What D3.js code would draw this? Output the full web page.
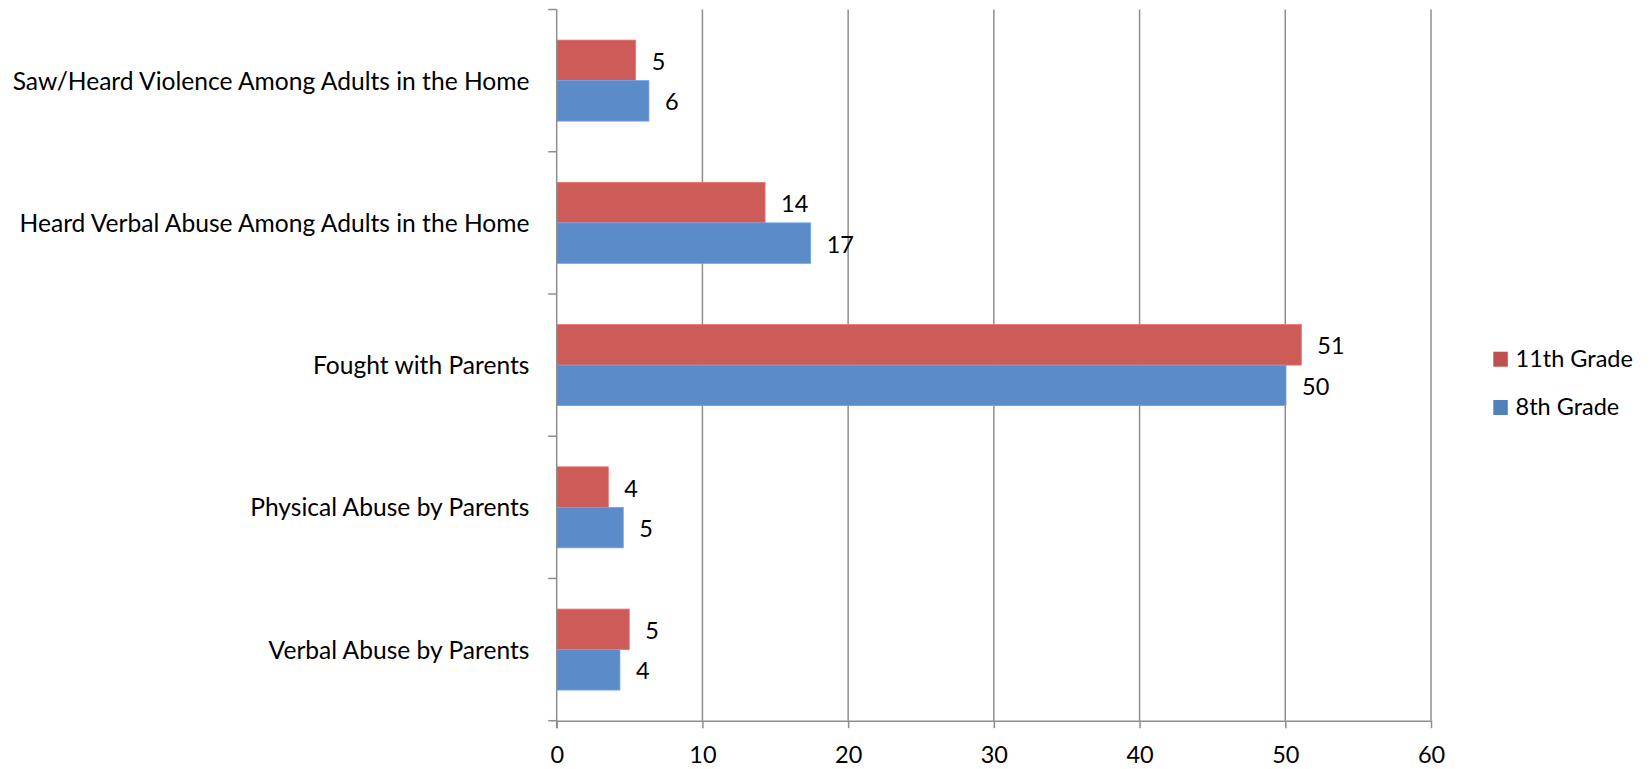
<!DOCTYPE html>
<html>
<head>
<meta charset="utf-8">
<script src="https://cdn.jsdelivr.net/npm/d3@7"></script>
<style>
  html, body { margin: 0; padding: 0; background: #ffffff; }
  svg { display: block; }
  text { font-family: Lato, "Open Sans", sans-serif; fill: #000; }
</style>
</head>
<body>
<svg id="chart" width="1650" height="769"></svg>
<script>
const categories = [
  "Saw/Heard Violence Among Adults in the Home",
  "Heard Verbal Abuse Among Adults in the Home",
  "Fought with Parents",
  "Physical Abuse by Parents",
  "Verbal Abuse by Parents"
];
const seriesNames = ["11th Grade", "8th Grade"];
const grade11 = [5.42, 14.30, 51.1, 3.54, 4.98];
const grade8 = [6.33, 17.43, 50.05, 4.57, 4.34];
const xTicks = [0, 10, 20, 30, 40, 50, 60];

(function () {
const colors = { "11th Grade": "#CD5B57", "8th Grade": "#5B8BC8" };
const legendColors = { "11th Grade": "#C0504D", "8th Grade": "#4F81BD" };
const seriesValues = { "11th Grade": grade11, "8th Grade": grade8 };

const svg = d3.select("#chart");
const plotLeft = 556.7, plotRight = 1431, plotTop = 9.5, plotBottom = 720.7;
const fontSize = 23.5;
const catFontSize = 24.6;
const gridColor = "#8E8E8E";

const x = d3.scaleLinear().domain([0, 60]).range([plotLeft, plotRight]);
const y0 = d3.scaleBand().domain(categories).range([plotTop, plotBottom]).padding(0);
const y1 = d3.scaleBand().domain(seriesNames).range([0, y0.bandwidth()]).paddingInner(0).paddingOuter(0.756);

// gridlines
svg.append("g").selectAll("line").data(xTicks.filter(d => d > 0)).join("line")
  .attr("x1", d => x(d)).attr("x2", d => x(d))
  .attr("y1", plotTop).attr("y2", plotBottom)
  .attr("stroke", gridColor).attr("stroke-width", 1.5);

// bars
const catG = svg.append("g").selectAll("g").data(categories).join("g")
  .attr("transform", d => `translate(0,${y0(d)})`);

catG.selectAll("rect").data((c, i) => seriesNames.map(s => ({ s, v: seriesValues[s][i] })))
  .join("rect")
  .attr("x", x(0))
  .attr("y", d => y1(d.s))
  .attr("width", d => x(d.v) - x(0))
  .attr("height", y1.bandwidth())
  .attr("fill", d => colors[d.s])
  .attr("stroke", d => d3.color(colors[d.s]).brighter(0.5))
  .attr("stroke-width", 0.8);

catG.selectAll("text.val").data((c, i) => seriesNames.map(s => ({ s, v: seriesValues[s][i] })))
  .join("text").attr("class", "val")
  .attr("x", d => x(d.v) + 16)
  .attr("y", d => y1(d.s) + y1.bandwidth() / 2 + 9.5)
  .attr("font-size", fontSize)
  .text(d => d3.format(".0f")(d.v));

// y axis
const yAxis = svg.append("g");
yAxis.append("line").attr("x1", plotLeft).attr("x2", plotLeft).attr("y1", plotTop).attr("y2", plotBottom + 7.5)
  .attr("stroke", gridColor).attr("stroke-width", 1.5);
const boundaries = categories.map(c => y0(c)).concat([plotBottom]);
yAxis.selectAll("line.tick").data(boundaries).join("line").attr("class", "tick")
  .attr("x1", plotLeft - 8.5).attr("x2", plotLeft).attr("y1", d => d).attr("y2", d => d)
  .attr("stroke", gridColor).attr("stroke-width", 1.5);
yAxis.selectAll("text").data(categories).join("text")
  .attr("x", 529.5)
  .attr("y", d => y0(d) + y0.bandwidth() / 2 + 9)
  .attr("text-anchor", "end")
  .attr("font-size", catFontSize)
  .text(d => d);

// x axis
const xAxisG = svg.append("g").attr("transform", `translate(0,${plotBottom})`)
  .call(d3.axisBottom(x).tickValues(xTicks).tickSize(7.5).tickSizeOuter(0).tickPadding(0).tickFormat(d3.format("d")));
xAxisG.select(".domain").attr("stroke", gridColor).attr("stroke-width", 1.5);
xAxisG.selectAll(".tick line").attr("stroke", gridColor).attr("stroke-width", 1.5);
xAxisG.selectAll(".tick text")
  .attr("y", 42.5).attr("dy", null)
  .attr("font-size", fontSize).attr("font-family", "Lato, 'Open Sans', sans-serif")
  .attr("fill", "#000");

// legend
const legend = svg.append("g");
const legendY = { "11th Grade": 351.7, "8th Grade": 400 };
seriesNames.forEach(s => {
  legend.append("rect").attr("x", 1493.3).attr("y", legendY[s]).attr("width", 14.5).attr("height", 15)
    .attr("fill", legendColors[s]);
  legend.append("text").attr("x", 1515.5).attr("y", legendY[s] + 15)
    .attr("font-size", fontSize).text(s);
});
})();
</script>
</body>
</html>
